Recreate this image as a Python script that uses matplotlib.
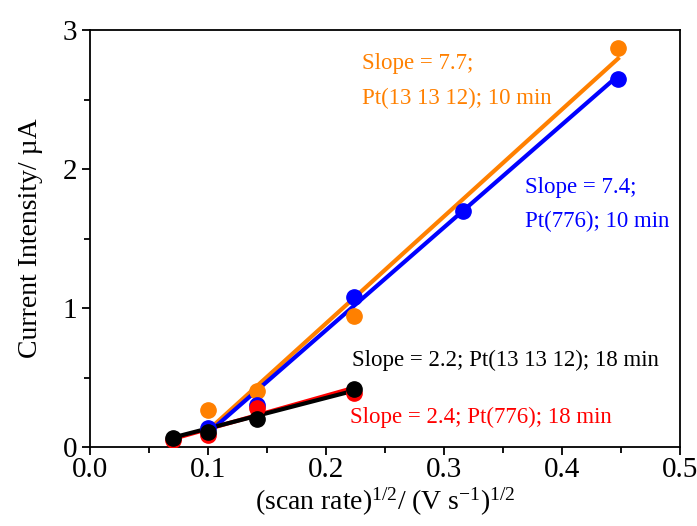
import numpy as np
import matplotlib
matplotlib.use("Agg")
import matplotlib.pyplot as plt

plt.rcParams['font.family'] = ['Liberation Serif', 'DejaVu Serif']
plt.rcParams['mathtext.fontset'] = 'custom'
plt.rcParams['mathtext.rm'] = 'Liberation Serif'
plt.rcParams['mathtext.it'] = 'Liberation Serif:italic'

# square root of scan rate (V/s)^1/2
x_pt1312_10 = [0.1, 0.1414, 0.2236, 0.4472]
y_pt1312_10 = [0.27, 0.40, 0.94, 2.87]

x_pt776_10 = [0.1, 0.1414, 0.2236, 0.3162, 0.4472]
y_pt776_10 = [0.14, 0.30, 1.08, 1.70, 2.65]

x_pt776_18 = [0.0707, 0.1, 0.1414, 0.2236]
y_pt776_18 = [0.05, 0.09, 0.28, 0.39]

x_pt1312_18 = [0.0707, 0.1, 0.1414, 0.2236]
y_pt1312_18 = [0.065, 0.11, 0.20, 0.42]

# linear fits: slope, intercept, x-range
fit_pt1312_10 = (7.7, -0.650, 0.105, 0.4472)
fit_pt776_10 = (7.4, -0.639, 0.100, 0.4472)
fit_pt776_18 = (2.4, -0.110, 0.0707, 0.2236)
fit_pt1312_18 = (2.2, -0.086, 0.0707, 0.2236)

orange = '#ff8000'
blue = '#0000ff'
red = '#ff0000'
black = '#000000'

fig = plt.figure(figsize=(6.97, 5.26), dpi=100)
ax = fig.add_axes([0.129, 0.150, 0.847, 0.793])

def fit_line(fit, color):
    s, b, x0, x1 = fit
    xx = np.array([x0, x1])
    ax.plot(xx, s * xx + b, color=color, lw=3, zorder=2)

fit_line(fit_pt1312_10, orange)
fit_line(fit_pt776_10, blue)
ax.plot(x_pt1312_10, y_pt1312_10, 'o', color=orange, ms=11, zorder=3)
ax.plot(x_pt776_10, y_pt776_10, 'o', color=blue, ms=11, zorder=3)
fit_line(fit_pt776_18, red)
ax.plot(x_pt776_18, y_pt776_18, 'o', color=red, ms=11, zorder=4)
fit_line(fit_pt1312_18, black)
ax.plot(x_pt1312_18, y_pt1312_18, 'o', color=black, ms=11, zorder=5)

fs = 16.5
ax.text(0.2305, 2.76, 'Slope = 7.7;', color=orange, fontsize=fs, va='center')
ax.text(0.2305, 2.51, 'Pt(13 13 12); 10 min', color=orange, fontsize=fs, va='center')
ax.text(0.3686, 1.87, 'Slope = 7.4;', color=blue, fontsize=fs, va='center')
ax.text(0.3686, 1.62, 'Pt(776); 10 min', color=blue, fontsize=fs, va='center')
ax.text(0.222, 0.626, 'Slope = 2.2; Pt(13 13 12); 18 min', color=black, fontsize=fs, va='center')
ax.text(0.220, 0.21, 'Slope = 2.4; Pt(776); 18 min', color=red, fontsize=fs, va='center')

ax.set_xlim(0, 0.5)
ax.set_ylim(0, 3)
ax.set_xticks(np.arange(0, 0.51, 0.1))
ax.set_xticklabels(['0.0', '0.1', '0.2', '0.3', '0.4', '0.5'])
ax.set_xticks(np.arange(0.05, 0.5, 0.1), minor=True)
ax.set_yticks([0, 1, 2, 3])
ax.set_yticks([0.5, 1.5, 2.5], minor=True)
ax.tick_params(which='major', direction='out', length=6, width=1.3, labelsize=21)
ax.tick_params(axis='x', which='major', pad=1)
ax.tick_params(axis='y', which='major', pad=3)
ax.tick_params(which='minor', direction='out', length=4, width=1.3)
for sp in ax.spines.values():
    sp.set_linewidth(1.3)

ax.set_xlabel('(scan rate)$^{1/2}$/ (V s$^{-1}$)$^{1/2}$', fontsize=20, labelpad=2)
ax.set_ylabel('Current Intensity/ \u00b5A', fontsize=20, labelpad=14)

fig.savefig('out.png', dpi=100)
